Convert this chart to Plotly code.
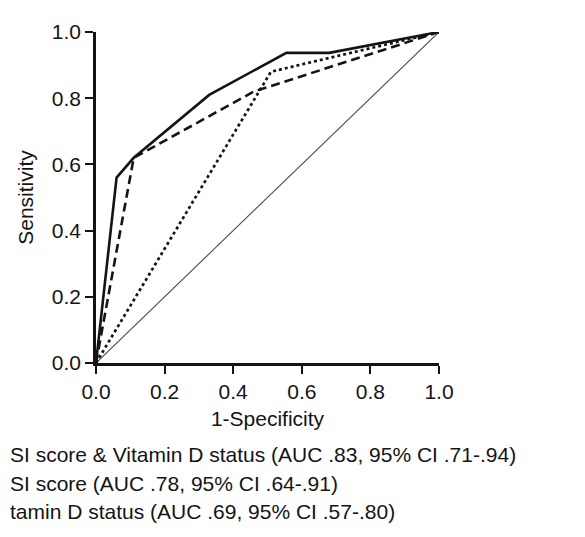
import plotly.graph_objects as go

# ROC curve data
combined_fpr = [0.0, 0.06, 0.11, 0.33, 0.555, 0.68, 1.0]
combined_tpr = [0.0, 0.56, 0.62, 0.81, 0.937, 0.937, 1.0]

si_fpr = [0.0, 0.11, 0.46, 1.0]
si_tpr = [0.0, 0.62, 0.82, 1.0]

vitd_fpr = [0.0, 0.51, 1.0]
vitd_tpr = [0.0, 0.88, 1.0]

ref_fpr = [0.0, 1.0]
ref_tpr = [0.0, 1.0]

tick_vals = [0.0, 0.2, 0.4, 0.6, 0.8, 1.0]
tick_text = ["0.0", "0.2", "0.4", "0.6", "0.8", "1.0"]

legend_labels = [
    "SI score & Vitamin D status (AUC .83, 95% CI .71-.94)",
    "SI score (AUC .78, 95% CI .64-.91)",
    "tamin D status (AUC .69, 95% CI .57-.80)",
]

FONT = "Liberation Sans, Arial, Helvetica, sans-serif"
INK = "#141414"

# page has an 8px body margin, so the figure is slightly smaller
W, H = 577, 529
L, R, T, B = 88, 146, 13, 174
pw, ph = W - L - R, H - T - B

fig = go.Figure()
fig.add_trace(go.Scatter(x=ref_fpr, y=ref_tpr, mode="lines",
                         line=dict(color="#4a4a4a", width=1.1), showlegend=False))
fig.add_trace(go.Scatter(x=vitd_fpr, y=vitd_tpr, mode="lines",
                         line=dict(color=INK, width=2.7, dash="dot"), showlegend=False))
fig.add_trace(go.Scatter(x=si_fpr, y=si_tpr, mode="lines",
                         line=dict(color=INK, width=2.6, dash="9px,5px"), showlegend=False))
fig.add_trace(go.Scatter(x=combined_fpr, y=combined_tpr, mode="lines",
                         line=dict(color=INK, width=2.6), showlegend=False))

annotations = []
legend_y_px = [450, 479, 508]
for label, ypx in zip(legend_labels, legend_y_px):
    annotations.append(dict(
        text=label, xref="paper", yref="paper",
        x=(1 - L) / pw, y=(H - B - ypx) / ph,
        xanchor="left", yanchor="middle", showarrow=False, borderpad=0,
        font=dict(family=FONT, size=21, color=INK),
    ))

axis_common = dict(
    range=[0, 1], tickvals=tick_vals, ticktext=tick_text,
    showline=True, linecolor=INK, linewidth=2.6,
    ticks="outside", ticklen=8, tickwidth=2.4, tickcolor=INK,
    showgrid=False, zeroline=False,
    tickfont=dict(family=FONT, size=21, color=INK),
    title_font=dict(family=FONT, size=21, color=INK),
    fixedrange=True,
)

fig.update_layout(
    width=W, height=H,
    margin=dict(l=L, r=R, t=T, b=B, pad=0),
    paper_bgcolor="white", plot_bgcolor="white",
    xaxis=dict(axis_common, title=dict(text="1-Specificity", standoff=10)),
    yaxis=dict(axis_common, title=dict(text="Sensitivity", standoff=13)),
    annotations=annotations,
    showlegend=False,
)

fig.write_html("out.html")
